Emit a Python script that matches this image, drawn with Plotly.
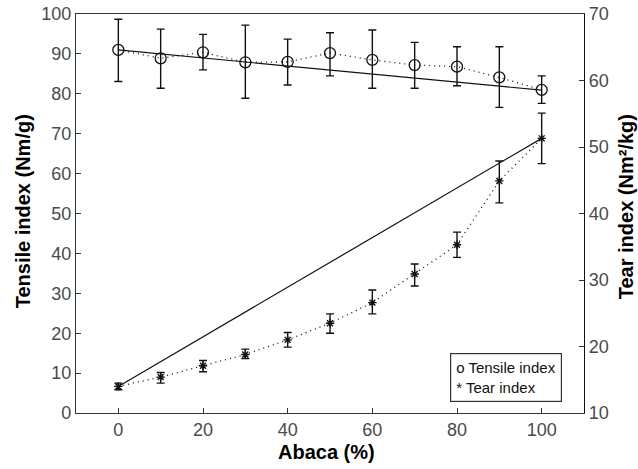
import plotly.graph_objects as go

abaca = [0, 10, 20, 30, 40, 50, 60, 70, 80, 90, 100]
tensile = [91.0, 88.9, 90.4, 87.9, 88.0, 90.2, 88.5, 87.2, 86.8, 84.1, 81.0]
tensile_hi = [98.7, 96.2, 94.9, 97.2, 93.7, 95.3, 96.0, 92.9, 91.8, 91.8, 84.5]
tensile_lo = [83.1, 81.4, 86.0, 78.9, 82.2, 84.5, 81.4, 81.4, 82.0, 76.6, 77.6]

tear = [14.0, 15.4, 17.1, 18.8, 21.0, 23.5, 26.6, 30.9, 35.3, 44.9, 51.3]
tear_hi = [14.5, 16.1, 17.9, 19.6, 22.1, 24.9, 28.5, 32.4, 37.2, 47.9, 55.1]
tear_lo = [13.5, 14.5, 16.2, 18.2, 19.9, 22.0, 24.9, 29.1, 33.4, 41.6, 47.5]

fit_x = [0, 100]
tensile_fit = [91.0, 80.9]
tear_fit = [14.0, 51.3]

x_ticks = [0, 20, 40, 60, 80, 100]
left_ticks = list(range(0, 101, 10))
right_ticks = list(range(10, 71, 10))

x_title = "<b>Abaca (%)</b>"
left_title = "<b>Tensile index (Nm/g)</b>"
right_title = "<b>Tear index (Nm²/kg)</b>"
legend_text = "o Tensile index<br>* Tear index"

ink = "#111111"
axis_col = "#333333"
fam = "Liberation Sans, Arial, sans-serif"
tick_font = dict(family=fam, size=18, color="#4a4a4a")
title_font = dict(family=fam, size=20, color="#000000")

fig = go.Figure()

fig.add_trace(go.Scatter(
    x=fit_x, y=tensile_fit, mode="lines",
    line=dict(color=ink, width=1.2), showlegend=False, hoverinfo="skip"))
fig.add_trace(go.Scatter(
    x=fit_x, y=tear_fit, mode="lines", yaxis="y2",
    line=dict(color=ink, width=1.2), showlegend=False, hoverinfo="skip"))

fig.add_trace(go.Scatter(
    x=abaca, y=tensile, mode="lines+markers",
    line=dict(color=ink, width=1.3, dash="1px,4px"),
    marker=dict(symbol="circle-open", size=11, color=ink, line=dict(width=1.3, color=ink)),
    error_y=dict(type="data", symmetric=False,
                 array=[h - v for h, v in zip(tensile_hi, tensile)],
                 arrayminus=[v - l for v, l in zip(tensile, tensile_lo)],
                 color=ink, thickness=1.4, width=4),
    showlegend=False))

fig.add_trace(go.Scatter(
    x=abaca, y=tear, mode="lines+markers", yaxis="y2",
    line=dict(color=ink, width=1.3, dash="1px,4px"),
    marker=dict(symbol="asterisk-open", size=7, color=ink, line=dict(width=1.4, color=ink)),
    error_y=dict(type="data", symmetric=False,
                 array=[h - v for h, v in zip(tear_hi, tear)],
                 arrayminus=[v - l for v, l in zip(tear, tear_lo)],
                 color=ink, thickness=1.4, width=4),
    showlegend=False))

fig.update_layout(
    width=638, height=469,
    margin=dict(l=76, r=54, t=14, b=56, autoexpand=False),
    paper_bgcolor="white", plot_bgcolor="white",
    xaxis=dict(range=[-10, 110], tickvals=x_ticks, ticks="inside", ticklen=5,
               tickcolor=axis_col, showline=True, linecolor=axis_col, linewidth=1.2,
               mirror=True, showgrid=False, zeroline=False, tickfont=tick_font,
               automargin=False),
    yaxis=dict(range=[0, 100], tickvals=left_ticks, ticks="inside", ticklen=5,
               tickcolor=axis_col, showline=True, linecolor=axis_col, linewidth=1.2,
               showgrid=False, zeroline=False, tickfont=tick_font, automargin=False),
    yaxis2=dict(range=[10, 70], tickvals=right_ticks, ticks="inside", ticklen=5,
                tickcolor=axis_col, showline=True, linecolor="#111111", linewidth=1.2,
                overlaying="y", side="right", showgrid=False, zeroline=False,
                tickfont=tick_font, automargin=False),
    annotations=[
        dict(xref="paper", yref="paper", x=0.494, y=-0.098, xanchor="center", yanchor="middle",
             text=x_title, showarrow=False, font=title_font),
        dict(xref="paper", yref="paper", x=-0.104, y=0.506, xanchor="center", yanchor="middle",
             text=left_title, textangle=-90, showarrow=False, font=title_font),
        dict(xref="paper", yref="paper", x=1.083, y=0.516, xanchor="center", yanchor="middle",
             text=right_title, textangle=-90, showarrow=False, font=title_font),
        dict(xref="paper", yref="paper", x=0.736, y=0.028, xanchor="left", yanchor="bottom",
             text=legend_text, align="left", showarrow=False,
             font=dict(family=fam, size=15, color="#111111"),
             bordercolor="#333333", borderwidth=1.2, borderpad=5, bgcolor="white"),
    ],
)

fig.write_html("out.html")
